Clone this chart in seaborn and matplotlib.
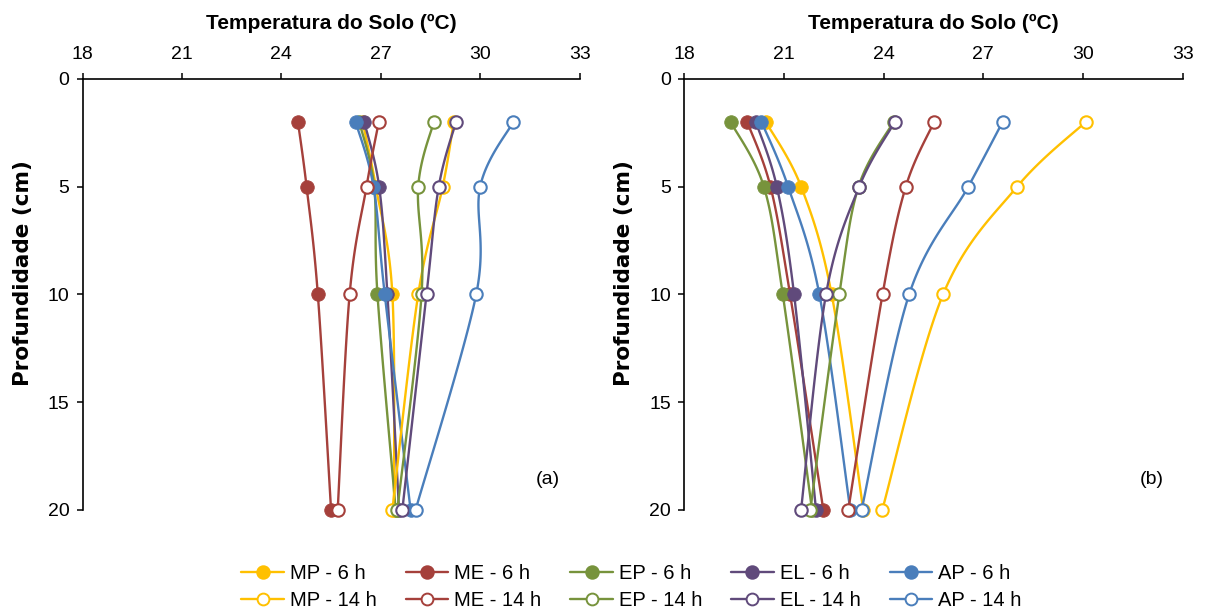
import numpy as np
import pandas as pd
import matplotlib
matplotlib.use("Agg")
import matplotlib.pyplot as plt
from matplotlib.lines import Line2D
import seaborn as sns

sns.set_theme(style="white")
plt.rcParams["font.family"] = ["Liberation Sans", "DejaVu Sans"]
plt.rcParams["text.color"] = "black"
plt.rcParams["axes.labelcolor"] = "black"
plt.rcParams["xtick.color"] = "black"
plt.rcParams["ytick.color"] = "black"

# Soil depths (cm)
depths = [2, 5, 10, 20]

# Treatments and observation hours
treatments = ["MP", "ME", "EP", "EL", "AP"]
hours = ["6 h", "14 h"]

# Panel (a): soil temperature (ºC) per depth
a_MP_6 = [26.45, 26.85, 27.35, 27.40]
a_ME_6 = [24.50, 24.76, 25.10, 25.50]
a_EP_6 = [26.35, 26.80, 26.90, 27.45]
a_EL_6 = [26.50, 26.95, 27.20, 27.55]
a_AP_6 = [26.24, 26.78, 27.12, 27.90]
a_MP_14 = [29.20, 28.87, 28.13, 27.35]
a_ME_14 = [26.94, 26.57, 26.06, 25.70]
a_EP_14 = [28.60, 28.13, 28.23, 27.50]
a_EL_14 = [29.27, 28.75, 28.38, 27.65]
a_AP_14 = [31.00, 30.00, 29.88, 28.05]

# Panel (b): soil temperature (ºC) per depth
b_MP_6 = [20.46, 21.52, 22.44, 23.39]
b_ME_6 = [19.90, 20.60, 21.19, 22.19]
b_EP_6 = [19.40, 20.40, 20.97, 21.85]
b_EL_6 = [20.16, 20.79, 21.31, 21.97]
b_AP_6 = [20.33, 21.13, 22.07, 23.00]
b_MP_14 = [30.08, 28.02, 25.79, 23.96]
b_ME_14 = [25.52, 24.67, 23.97, 22.94]
b_EP_14 = [24.30, 23.25, 22.67, 21.80]
b_EL_14 = [24.34, 23.27, 22.27, 21.52]
b_AP_14 = [27.58, 26.55, 24.77, 23.34]

x_ticks = [18, 21, 24, 27, 30, 33]
y_ticks = [0, 5, 10, 15, 20]

colors = {"MP": "#FFC000", "ME": "#A5403B", "EP": "#77933C",
          "EL": "#604A7B", "AP": "#4A7EBB"}

panel_a = {("MP", "6 h"): a_MP_6, ("ME", "6 h"): a_ME_6, ("EP", "6 h"): a_EP_6,
           ("EL", "6 h"): a_EL_6, ("AP", "6 h"): a_AP_6,
           ("MP", "14 h"): a_MP_14, ("ME", "14 h"): a_ME_14, ("EP", "14 h"): a_EP_14,
           ("EL", "14 h"): a_EL_14, ("AP", "14 h"): a_AP_14}
panel_b = {("MP", "6 h"): b_MP_6, ("ME", "6 h"): b_ME_6, ("EP", "6 h"): b_EP_6,
           ("EL", "6 h"): b_EL_6, ("AP", "6 h"): b_AP_6,
           ("MP", "14 h"): b_MP_14, ("ME", "14 h"): b_ME_14, ("EP", "14 h"): b_EP_14,
           ("EL", "14 h"): b_EL_14, ("AP", "14 h"): b_AP_14}


def smooth_curve(xs, ys, sx=33.0, sy=21.5, n=40):
    """Bezier smoothing through the points (Catmull-Rom style control points)."""
    P = np.column_stack([np.asarray(xs, float) * sx, np.asarray(ys, float) * sy])
    segs = []
    for i in range(len(P) - 1):
        p0 = P[i - 1] if i > 0 else P[i]
        p1, p2 = P[i], P[i + 1]
        p3 = P[i + 2] if i + 2 < len(P) else P[i + 1]
        c1 = p1 + (p2 - p0) / 6.0
        c2 = p2 - (p3 - p1) / 6.0
        t = np.linspace(0, 1, n)[:, None]
        seg = ((1 - t) ** 3) * p1 + 3 * ((1 - t) ** 2) * t * c1 + 3 * (1 - t) * t ** 2 * c2 + t ** 3 * p2
        segs.append(seg if i == 0 else seg[1:])
    arr = np.vstack(segs)
    return arr[:, 0] / sx, arr[:, 1] / sy


fig = plt.figure(figsize=(12.05, 6.10), dpi=100)
ax_a = fig.add_axes([0.0685, 0.164, 0.4125, 0.707])
ax_b = fig.add_axes([0.5676, 0.164, 0.4141, 0.707])

for ax, data, tag in [(ax_a, panel_a, "(a)"), (ax_b, panel_b, "(b)")]:
    z = 2
    for hr in hours:
        for tr in treatments:
            vals = data[(tr, hr)]
            c = colors[tr]
            cx, cy = smooth_curve(vals, depths)
            curve = pd.DataFrame({"temp": cx, "depth": cy})
            sns.lineplot(data=curve, x="temp", y="depth", sort=False, estimator=None,
                         color=c, linewidth=1.7, ax=ax, zorder=z)
            pts = pd.DataFrame({"temp": vals, "depth": depths})
            face = c if hr == "6 h" else "white"
            sns.scatterplot(data=pts, x="temp", y="depth", s=95 if hr == "6 h" else 80,
                            color=face, edgecolor=c, linewidth=1.5 if hr == "14 h" else 0.6,
                            ax=ax, zorder=z + 0.5, clip_on=False)
            z += 1

    ax.set_xlim(18, 33)
    ax.set_ylim(20, 0)
    ax.set_xticks(x_ticks)
    ax.set_yticks(y_ticks)
    ax.xaxis.tick_top()
    ax.xaxis.set_label_position("top")
    ax.set_xlabel("Temperatura do Solo (ºC)", fontsize=15, fontweight="bold",
                  labelpad=12, color="black")
    ax.set_ylabel("Profundidade (cm)", fontsize=15.5, fontweight="bold",
                  color="black", family=["DejaVu Sans"])
    ax.yaxis.set_label_coords(-0.10, 0.55)
    ax.tick_params(axis="x", which="major", labelsize=14, direction="out",
                   length=4.5, width=1.1, color="black", pad=7,
                   top=True, bottom=False)
    ax.tick_params(axis="y", which="major", labelsize=14, direction="out",
                   length=4.5, width=1.1, color="black", pad=5,
                   left=True, right=False)
    for side in ["right", "bottom"]:
        ax.spines[side].set_visible(False)
    for side in ["left", "top"]:
        ax.spines[side].set_color("black")
        ax.spines[side].set_linewidth(1.2)
    ax.grid(False)
    ax.set_facecolor("white")
    ax.text(0.937, 0.07, tag, transform=ax.transAxes, fontsize=14,
            ha="center", va="center", color="black")

# Legend: 6 h on the first row, 14 h on the second
handles, labels = [], []
for tr in treatments:
    for hr in hours:
        c = colors[tr]
        handles.append(Line2D([0], [0], color=c, linewidth=1.7, marker="o",
                              markersize=9 if hr == "6 h" else 8.5,
                              markerfacecolor=c if hr == "6 h" else "white",
                              markeredgecolor=c, markeredgewidth=1.4))
        labels.append(f"{tr} - {hr}")

leg = fig.legend(handles, labels, loc="center", bbox_to_anchor=(0.524, 0.037), ncol=5,
                 frameon=False, fontsize=14.5, handlelength=2.1, handletextpad=0.3,
                 columnspacing=1.45, labelspacing=0.4, borderpad=0.0)
for t in leg.get_texts():
    t.set_color("black")

fig.savefig("out.png", dpi=100, facecolor="white")
